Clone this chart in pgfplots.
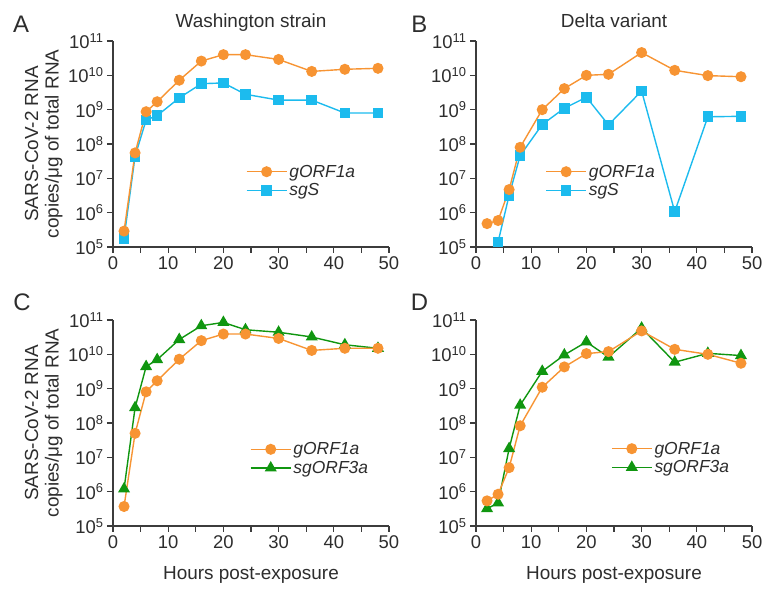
\documentclass[border=0pt]{standalone}
\usepackage{pgfplots}
\pgfplotsset{compat=1.18}
\usepackage{fontspec}
\setmainfont{Liberation Sans}
\setsansfont{Liberation Sans}
\definecolor{corange}{RGB}{247,148,51}
\definecolor{ccyan}{RGB}{28,187,238}
\definecolor{cgreen}{RGB}{16,150,16}
\definecolor{caxis}{RGB}{60,60,60}
\definecolor{ctext}{RGB}{45,45,45}

\pgfplotsset{
  scale only axis, width=276bp, height=206bp,
  xmin=0, xmax=50, ymin=1e5, ymax=1e11,
  axis x line*=bottom, axis y line*=left,
  axis line style={caxis, line width=1.4bp, -},
  xtick={0,10,20,30,40,50}, xticklabels={0,10,20,30,40,50},
  minor xtick={5,15,25,35,45},
  tick align=outside, major tick length=6bp, minor tick length=6bp,
  every tick/.style={caxis, line width=1.2bp},
  tick label style={font=\fontsize{18.5}{20}\selectfont, text=ctext},
  clip=false,
  reverse legend,
  legend cell align=left,
  legend style={draw=none, fill=none, anchor=west,
    font=\fontsize{17.5}{20}\selectfont\itshape, text=ctext,
    row sep=1bp, nodes={inner sep=2bp}},
  legend image code/.code={\draw[mark repeat=2,mark phase=2] plot coordinates {(0bp,0bp) (20bp,0bp) (40bp,0bp)};},
  title style={font=\fontsize{19}{22}\selectfont, text=ctext, anchor=base},
  ylabel style={align=center, font=\fontsize{19}{20.5}\selectfont, text=ctext,
      at={(axis description cs:-0.17,0.5)}, anchor=south},
  xlabel style={font=\fontsize{19}{22}\selectfont, text=ctext,
      at={(axis description cs:0.5,-0.238)}, anchor=center},
  sorange/.style={color=corange, line width=1.4bp, mark=*, mark size=4.8bp, mark options={fill=corange, draw=corange, solid}},
  scyan/.style={color=ccyan, line width=1.4bp, mark=square*, mark size=4.6bp, mark options={fill=ccyan, draw=ccyan, solid}},
  sgreen/.style={color=cgreen, line width=1.4bp, mark=triangle*, mark size=5.6bp, mark options={fill=cgreen, draw=cgreen, solid}},
}
\newcommand{\ylabtext}{SARS-CoV-2 RNA\\copies/μg of total RNA}

\begin{document}
\begin{tikzpicture}
\useasboundingbox (0bp,0bp) rectangle (775bp,595bp);

% Panel A
\begin{axis}[ymode=log, ytick={1e5,1e6,1e7,1e8,1e9,1e10,1e11},
  yticklabels={10\textsuperscript{5},10\textsuperscript{6},10\textsuperscript{7},10\textsuperscript{8},10\textsuperscript{9},10\textsuperscript{10},10\textsuperscript{11}},
  yminorticks=false,
  anchor=south west, at={(113bp,348bp)},
  ylabel={\ylabtext},
  title={Washington strain}, title style={at={(axis description cs:0.5,1.035)}},
  legend style={at={(axis description cs:0.47,0.32)}}]
\addplot[scyan] coordinates {(2,1.8e5) (4,4.4e7) (6,5e8) (8,6.7e8) (12,2.2e9) (16,5.7e9) (20,6e9) (24,2.8e9) (30,1.9e9) (36,1.9e9) (42,8e8) (48,8e8)};
\addlegendentry{sgS}
\addplot[sorange] coordinates {(2,2.9e5) (4,5.5e7) (6,8.7e8) (8,1.7e9) (12,7.2e9) (16,2.6e10) (20,4e10) (24,4e10) (30,2.9e10) (36,1.3e10) (42,1.5e10) (48,1.6e10)};
\addlegendentry{gORF1a}
\node[font=\fontsize{24}{26}\selectfont, text=ctext] at (axis description cs:-0.333,1.082) {A};
\end{axis}

% Panel B
\begin{axis}[ymode=log, ytick={1e5,1e6,1e7,1e8,1e9,1e10,1e11},
  yticklabels={10\textsuperscript{5},10\textsuperscript{6},10\textsuperscript{7},10\textsuperscript{8},10\textsuperscript{9},10\textsuperscript{10},10\textsuperscript{11}},
  yminorticks=false,
  anchor=south west, at={(476bp,348bp)},
  title={Delta variant}, title style={at={(axis description cs:0.5,1.035)}},
  legend style={at={(axis description cs:0.24,0.32)}}]
\addplot[scyan] coordinates {(4,1.4e5) (6,3.2e6) (8,4.6e7) (12,3.7e8) (16,1.1e9) (20,2.3e9) (24,3.6e8) (30,3.5e9) (36,1.07e6) (42,6.2e8) (48,6.4e8)};
\addlegendentry{sgS}
\addplot[sorange] coordinates {(2,4.8e5) (4,5.9e5) (6,4.7e6) (8,8e7) (12,1.0e9) (16,4.1e9) (20,1.0e10) (24,1.07e10) (30,4.6e10) (36,1.4e10) (42,9.8e9) (48,9.1e9)};
\addlegendentry{gORF1a}
\node[font=\fontsize{24}{26}\selectfont, text=ctext] at (axis description cs:-0.205,1.082) {B};
\end{axis}

% Panel C
\begin{axis}[ymode=log, ytick={1e5,1e6,1e7,1e8,1e9,1e10,1e11},
  yticklabels={10\textsuperscript{5},10\textsuperscript{6},10\textsuperscript{7},10\textsuperscript{8},10\textsuperscript{9},10\textsuperscript{10},10\textsuperscript{11}},
  yminorticks=false,
  anchor=south west, at={(113bp,69bp)},
  ylabel={\ylabtext}, xlabel={Hours post-exposure},
  legend style={at={(axis description cs:0.485,0.327)}}]
\addplot[sgreen] coordinates {(2,1.2e6) (4,2.8e8) (6,4.4e9) (8,7e9) (12,2.7e10) (16,6.8e10) (20,8.5e10) (24,5.2e10) (30,4.4e10) (36,3.2e10) (42,1.9e10) (48,1.5e10)};
\addlegendentry{sgORF3a}
\addplot[sorange] coordinates {(2,3.7e5) (4,5e7) (6,8.1e8) (8,1.7e9) (12,7.2e9) (16,2.5e10) (20,3.9e10) (24,3.9e10) (30,2.9e10) (36,1.3e10) (42,1.5e10) (48,1.5e10)};
\addlegendentry{gORF1a}
\node[font=\fontsize{24}{26}\selectfont, text=ctext] at (axis description cs:-0.33,1.087) {C};
\end{axis}

% Panel D
\begin{axis}[ymode=log, ytick={1e5,1e6,1e7,1e8,1e9,1e10,1e11},
  yticklabels={10\textsuperscript{5},10\textsuperscript{6},10\textsuperscript{7},10\textsuperscript{8},10\textsuperscript{9},10\textsuperscript{10},10\textsuperscript{11}},
  yminorticks=false,
  anchor=south west, at={(476bp,69bp)},
  xlabel={Hours post-exposure},
  legend style={at={(axis description cs:0.478,0.33)}}]
\addplot[sgreen] coordinates {(2,3.2e5) (4,4.7e5) (6,1.8e7) (8,3.3e8) (12,3.2e9) (16,9.6e9) (20,2.3e10) (24,8.3e9) (30,5.8e10) (36,5.9e9) (42,1.07e10) (48,9.2e9)};
\addlegendentry{sgORF3a}
\addplot[sorange] coordinates {(2,5.4e5) (4,8.4e5) (6,5e6) (8,8.3e7) (12,1.1e9) (16,4.3e9) (20,1.05e10) (24,1.2e10) (30,4.8e10) (36,1.4e10) (42,1.0e10) (48,5.5e9)};
\addlegendentry{gORF1a}
\node[font=\fontsize{24}{26}\selectfont, text=ctext] at (axis description cs:-0.205,1.087) {D};
\end{axis}
\end{tikzpicture}
\end{document}
